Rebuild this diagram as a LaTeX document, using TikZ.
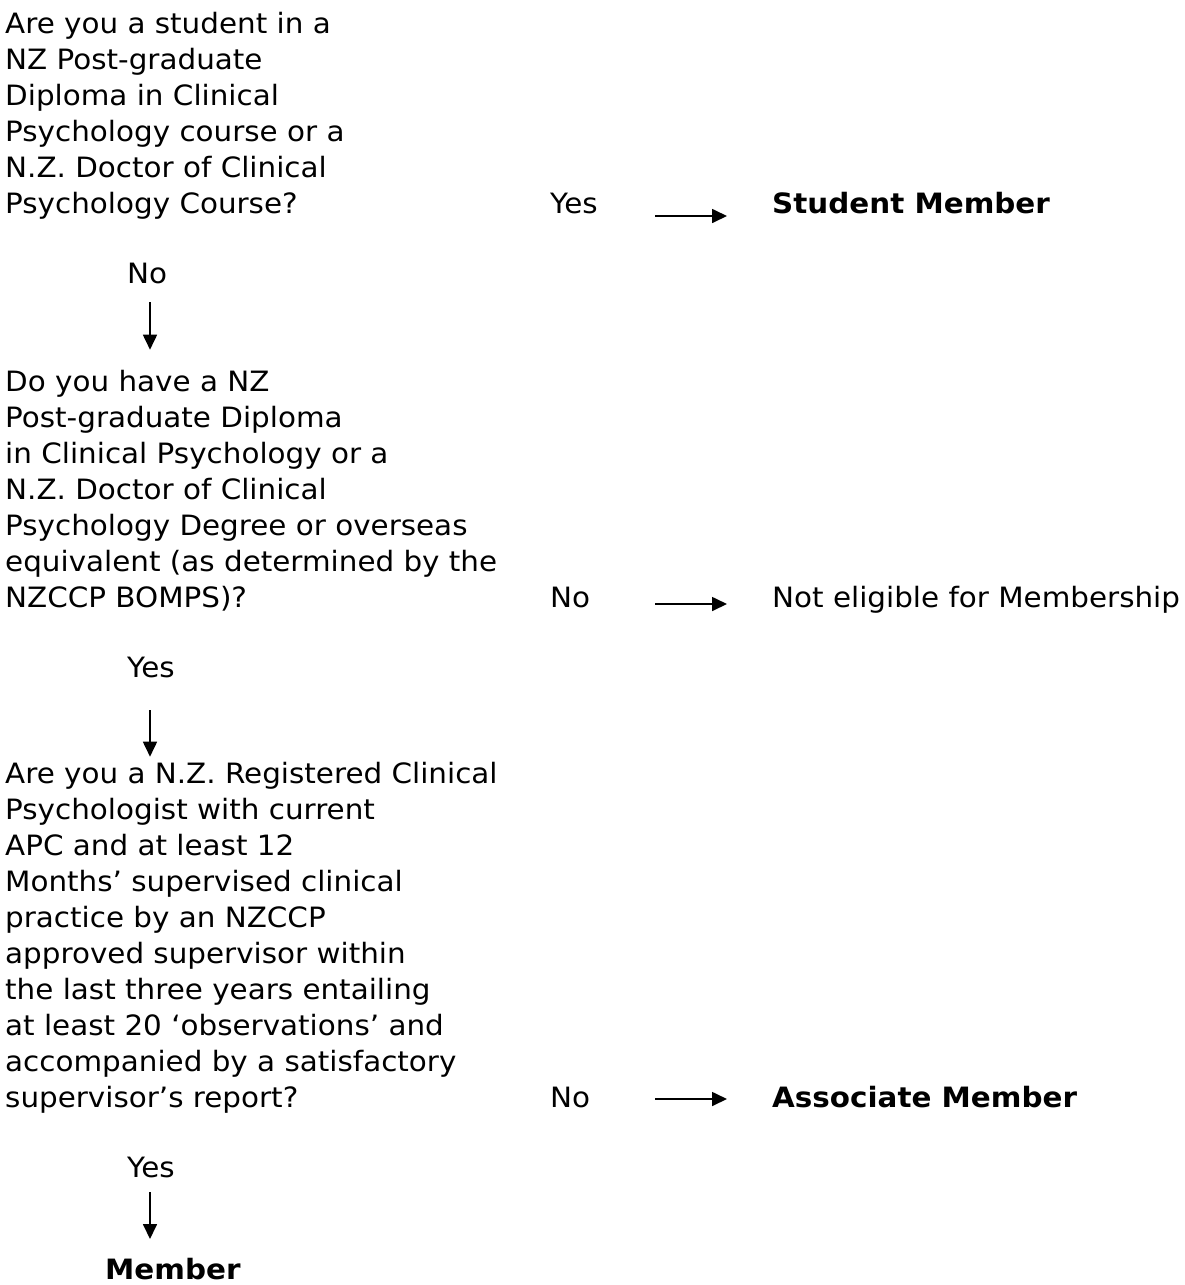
\documentclass[tikz,border=0pt]{standalone}
\usepackage{fontspec}
\setmainfont{DejaVu Sans}[FakeStretch=1.05]
\usetikzlibrary{arrows.meta}

\begin{document}
\begin{tikzpicture}[x=1pt,y=-1pt]

	\tikzstyle txt=[inner sep=0pt,anchor=base west,font=\fontsize{28}{36}\selectfont];
	\tikzstyle question=[txt,anchor=north west,align=left];
	\tikzstyle outcome=[txt,font=\fontsize{28}{36}\selectfont\bfseries];
	\tikzstyle flow=[line width=1.7pt,-{Triangle[length=15pt,width=14pt]}];

	\useasboundingbox (0,0) rectangle (1184,1285);

	% questions
	\node[question] (q1) at (5,11.7) {Are you a student in a\\NZ Post-graduate\\Diploma in Clinical\\Psychology course or a\\N.Z. Doctor of Clinical\\Psychology Course?};
	\node[question] (q2) at (5,369.7) {Do you have a NZ\\Post-graduate Diploma\\in Clinical Psychology or a\\N.Z. Doctor of Clinical\\Psychology Degree or overseas\\equivalent (as determined by the\\NZCCP BOMPS)?};
	\node[question] (q3) at (5,761.7) {Are you a N.Z. Registered Clinical\\Psychologist with current\\APC and at least 12\\Months’ supervised clinical\\practice by an NZCCP\\approved supervisor within\\the last three years entailing\\at least 20 ‘observations’ and\\accompanied by a satisfactory\\supervisor’s report?};

	% answers
	\node[txt] (yes1) at (550,213) {Yes};
	\node[txt] (no2) at (550,607) {No};
	\node[txt] (no3) at (550,1107) {No};
	\node[txt] (no1) at (127,283) {No};
	\node[txt] (yes2) at (127,677) {Yes};
	\node[txt] (yes3) at (127,1177) {Yes};

	% outcomes
	\node[outcome] (student) at (772,213) {Student Member};
	\node[txt] (noelig) at (772,607) {Not eligible for Membership};
	\node[outcome] (assoc) at (772,1107) {Associate Member};
	\node[outcome] (member) at (105,1279) {Member};

	\draw[flow] ([shift={(105,3)}]yes1.base west) -- ([shift={(-45,3)}]student.base west);
	\draw[flow] ([shift={(105,-3)}]no2.base west) -- ([shift={(-45,-3)}]noelig.base west);
	\draw[flow] ([shift={(105,-8)}]no3.base west) -- ([shift={(-45,-8)}]assoc.base west);

	\draw[flow] ([shift={(23,19)}]no1.base west) -- ([shift={(145,-20)}]q2.north west);
	\draw[flow] ([shift={(23,33)}]yes2.base west) -- ([shift={(145,-5)}]q3.north west);
	\draw[flow] ([shift={(23,15)}]yes3.base west) -- ([shift={(45,-40)}]member.base west);

\end{tikzpicture}
\end{document}
